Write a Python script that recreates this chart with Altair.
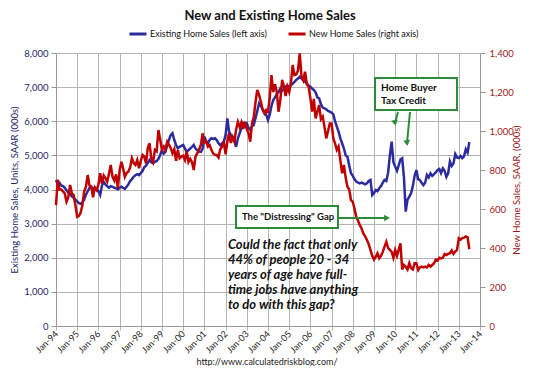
import altair as alt
import pandas as pd

# ---------------- data ----------------
start_month = "1994-01-01"
series_names = ["Existing Home Sales (left axis)", "New Home Sales (right axis)"]
series_colors = ["#2B2B9E", "#C00000"]

# Existing home sales, thousands SAAR, monthly Jan-1994 .. Jul-2013
existing_home_sales = [
    4280, 4150, 4200, 4120, 4100, 4050, 3980, 3900, 3870, 3800, 3760, 3700,  # 1994
    3650, 3600, 3580, 3620, 3700, 3850, 3950, 4050, 4080, 4000, 4050, 4020,  # 1995
    3950, 3840, 4100, 4230, 4150, 4100, 4050, 4100, 4080, 4050, 4035, 4000,  # 1996
    4050, 4080, 4050, 4020, 4080, 4150, 4250, 4300, 4380, 4420, 4450, 4420,  # 1997
    4480, 4550, 4650, 4700, 4780, 4865, 4800, 4770, 4815, 4830, 4900, 5010,  # 1998
    5160, 5050, 5100, 5300, 5450, 5600, 5650, 5450, 5300, 5210, 5250, 5280,  # 1999
    5305, 5200, 5110, 5150, 5200, 5250, 5305, 5200, 5150, 5110, 5100, 5200,  # 2000
    5550, 5400, 5350, 5450, 5500, 5480, 5500, 5450, 5355, 5300, 5350, 5400,  # 2001
    5600, 6085, 5700, 5600, 5550, 5450, 5250, 5500, 5650, 5800, 5940, 5900,  # 2002
    5940, 5800, 5750, 5850, 5890, 6100, 6300, 6525, 6450, 6350, 6280, 6200,  # 2003
    6035, 6200, 6450, 6620, 6700, 6800, 6850, 6965, 6900, 6950, 7010, 7050,  # 2004
    7000, 7060, 7100, 7150, 7210, 7250, 7305, 7250, 7200, 7160, 7100, 7050,  # 2005
    7010, 6950, 6915, 6850, 6700, 6670, 6500, 6400, 6380, 6350, 6300, 6280,  # 2006
    6250, 6200, 6000, 5840, 5700, 5500, 5355, 5200, 5000, 4960, 4700, 4475,  # 2007
    4400, 4300, 4230, 4200, 4180, 4200, 4180, 4150, 4180, 4250, 4280, 3840,  # 2008
    3900, 3985, 3950, 4035, 4100, 4200, 4280, 4250, 4500, 5000, 5400, 4800,  # 2009
    4670, 4550, 4700, 4880, 4915, 4350, 3350, 3700, 3790, 3890, 4100, 4400,  # 2010
    4570, 4300, 4280, 4200, 4130, 4200, 4425, 4350, 4475, 4400, 4450, 4500,  # 2011
    4570, 4600, 4480, 4620, 4550, 4370, 4470, 4820, 4690, 4760, 5040, 4940,  # 2012
    4920, 4980, 4920, 4970, 5180, 5080, 5390,                                # 2013
]

# New home sales, thousands SAAR, monthly Jan-1994 .. Jul-2013
new_home_sales = [
    620, 750, 700, 700, 690, 680, 637, 660, 723, 680, 672, 620,        # 1994
    560, 565, 580, 620, 690, 714, 774, 720, 714, 660, 710, 697,        # 1995
    724, 783, 730, 772, 758, 740, 780, 826, 765, 746, 778, 706,        # 1996
    798, 842, 810, 765, 784, 792, 813, 860, 836, 826, 851, 809,        # 1997
    847, 877, 870, 834, 913, 937, 860, 840, 903, 896, 1005, 956,       # 1998
    903, 920, 904, 945, 930, 912, 886, 907, 847, 903, 860, 869,        # 1999
    873, 851, 896, 841, 857, 840, 800, 870, 886, 905, 929, 988,        # 2000
    940, 946, 920, 928, 904, 885, 878, 877, 864, 906, 920, 946,        # 2001
    881, 947, 988, 939, 968, 945, 1007, 1047, 1020, 1045, 1010, 1047,  # 2002
    1010, 988, 945, 1039, 1070, 1150, 1210, 1185, 1150, 1108, 1090, 1108,  # 2003
    1100, 1170, 1287, 1200, 1240, 1200, 1099, 1160, 1262, 1230, 1180, 1227,  # 2004
    1200, 1250, 1338, 1287, 1290, 1310, 1398, 1279, 1260, 1304, 1240, 1227,  # 2005
    1167, 1100, 1165, 1065, 1100, 1133, 1060, 1074, 1020, 962, 1000, 1039,  # 2006
    1039, 960, 937, 903, 920, 850, 783, 826, 760, 714, 700, 646,       # 2007
    637, 600, 560, 540, 518, 500, 475, 460, 441, 420, 390, 360,        # 2008
    340, 355, 373, 347, 360, 380, 407, 432, 400, 390, 380, 350,        # 2009
    390, 360, 390, 424, 290, 313, 304, 290, 322, 296, 290, 322,        # 2010
    322, 287, 300, 304, 300, 304, 300, 313, 305, 313, 322, 340,        # 2011
    336, 350, 347, 350, 369, 364, 371, 373, 387, 370, 382, 390,        # 2012
    450, 443, 451, 453, 459, 455, 394,                                 # 2013
]

left_ticks = list(range(0, 8001, 1000))
right_ticks = list(range(0, 1401, 200))

title_text = "New and Existing Home Sales"
source_text = "http://www.calculatedriskblog.com/"
left_title = "Existing Home Sales, Units, SAAR (000s)"
right_title = "New Home Sales, SAAR, (000s)"
tax_credit_lines = ["Home Buyer", "Tax Credit"]
gap_label = 'The "Distressing" Gap'
question_lines = [
    "Could the fact that only",
    "44% of people 20 - 34",
    "years of age have full-",
    "time jobs have anything",
    "to do with this gap?",
]

# ---------------- tables ----------------
months = pd.date_range(start_month, periods=len(existing_home_sales), freq="MS")
df_exist = pd.DataFrame({"date": months, "value": existing_home_sales, "series": series_names[0]})
df_new = pd.DataFrame({"date": months, "value": new_home_sales, "series": series_names[1]})
one = pd.DataFrame({"k": [0]})

FONT = "Lato"
GREEN = "#2E8B3A"
GRID = "#B4B4B4"
AXIS_LINE = "#999999"
LEFT_COL = "#1F1F6B"
RIGHT_COL = "#9B1B1B"

x_scale = alt.Scale(domain=[alt.DateTime(year=1994, month=1, date=1),
                            alt.DateTime(year=2014, month=1, date=1)])
x_axis = alt.Axis(tickCount=alt.TimeIntervalStep(interval="year", step=1),
                  format="%b-%y", labelAngle=315, labelAlign="right", labelBaseline="middle",
                  labelFontSize=9, labelColor="#222222", labelPadding=2, tickSize=4,
                  tickColor=GRID, domainColor=AXIS_LINE, grid=True, gridColor=GRID,
                  title=None, labelFont=FONT, labelOverlap=False, labelBound=False)
color_scale = alt.Scale(domain=series_names, range=series_colors)

legend = alt.Legend(orient="none", legendX=72, legendY=-29, direction="horizontal",
                    title=None, symbolType="stroke", symbolStrokeWidth=3, symbolSize=289,
                    labelFontSize=9, labelFont=FONT, labelColor="#111111",
                    columnPadding=15, labelOffset=2)

blue = alt.Chart(df_exist).mark_line(strokeWidth=2.5).encode(
    x=alt.X("date:T", scale=x_scale, axis=x_axis),
    y=alt.Y("value:Q", scale=alt.Scale(domain=[0, 8000], nice=False),
            axis=alt.Axis(values=left_ticks, format=",.0f", title=left_title,
                          labelColor=LEFT_COL, titleColor=LEFT_COL, labelFontSize=9.5,
                          titleFontSize=9.5, titleFontWeight="normal", titlePadding=4,
                          labelFont=FONT, titleFont=FONT, tickSize=5, tickColor=AXIS_LINE,
                          domainColor=AXIS_LINE, grid=True, gridColor=GRID, labelPadding=3)),
    color=alt.Color("series:N", scale=color_scale, legend=legend),
)

red = alt.Chart(df_new).mark_line(strokeWidth=2.5).encode(
    x=alt.X("date:T", scale=x_scale, axis=x_axis),
    y=alt.Y("value:Q", scale=alt.Scale(domain=[0, 1400], nice=False),
            axis=alt.Axis(values=right_ticks, format=",.0f", title=right_title, orient="right",
                          labelColor=RIGHT_COL, titleColor=RIGHT_COL, labelFontSize=9.5,
                          titleFontSize=9.5, titleFontWeight="normal", titleAngle=270,
                          titlePadding=8, labelFont=FONT, titleFont=FONT, tickSize=5,
                          tickColor=AXIS_LINE, domainColor=AXIS_LINE, grid=False,
                          labelPadding=4)),
    color=alt.Color("series:N", scale=color_scale, legend=legend),
)


# ---------------- annotations (pixel positions inside the plot area) ----------------
def box(x1, x2, y1, y2):
    return alt.Chart(one).mark_rect(fill="white", stroke=GREEN, strokeWidth=2).encode(
        x=alt.value(x1), x2=alt.value(x2), y=alt.value(y1), y2=alt.value(y2))


def arrow(x1, y1, x2, y2, shape, angle=0):
    line = alt.Chart(one).mark_rule(color=GREEN, strokeWidth=2).encode(
        x=alt.value(x1), x2=alt.value(x2), y=alt.value(y1), y2=alt.value(y2))
    head = alt.Chart(one).mark_point(filled=True, color=GREEN, opacity=1, size=45,
                                     shape=shape, angle=angle).encode(
        x=alt.value(x2), y=alt.value(y2))
    return [line, head]


def label(x, y, text, **kw):
    return alt.Chart(one).mark_text(align="left", baseline="middle", font=FONT,
                                    color="#111111", text=text, **kw).encode(
        x=alt.value(x), y=alt.value(y))


annotations = [
    box(319, 401, 25, 57),
    label(325, 35, tax_credit_lines, fontSize=10, fontWeight="bold", lineHeight=13),
    *arrow(342, 59, 339, 70, "triangle-down", 350),
    *arrow(354, 59, 351, 90, "triangle-down", 355),
    box(180, 282, 153, 175),
    label(186, 164, gap_label, fontSize=9.5, fontWeight="bold"),
    *arrow(282, 165, 331, 165, "triangle-right"),
    label(172, 192, question_lines, fontSize=13, fontWeight="bold", fontStyle="italic",
          lineHeight=15),
    alt.Chart(one).mark_text(text=title_text, fontSize=13, fontWeight="bold", font=FONT,
                             color="#111111", align="center", baseline="middle").encode(
        x=alt.value(214), y=alt.value(-37)),
    alt.Chart(one).mark_text(text=source_text, fontSize=9, font=FONT, color="#222222",
                             align="center", baseline="middle").encode(
        x=alt.value(211), y=alt.value(309)),
]

chart = alt.layer(blue, red, *annotations).resolve_scale(y="independent").properties(
    width=424, height=273,
    autosize=alt.AutoSizeParams(type="none"),
    padding={"left": 48, "top": 45, "right": 47, "bottom": 40},
).configure_view(stroke=None)

chart.save("out.html", embed_options={"renderer": "svg", "actions": False})
